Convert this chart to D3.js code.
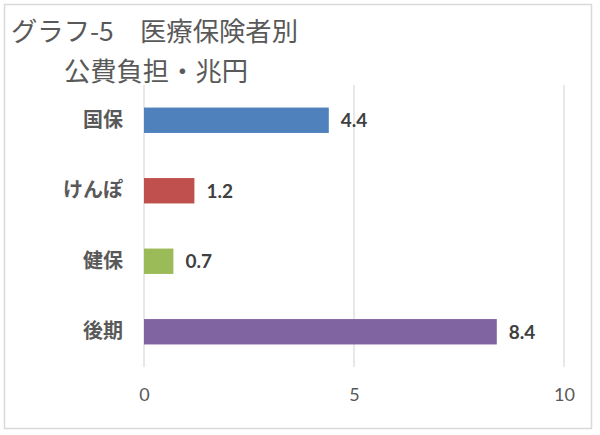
<!DOCTYPE html>
<html>
<head>
<meta charset="utf-8">
<script src="https://cdn.jsdelivr.net/npm/d3@7"></script>
<style>
body { margin: 0; background: #fff; }
svg { display: block; }
</style>
</head>
<body>
<svg id="chart" width="600" height="435"></svg>
<script>
// data
const categories = ["国保", "けんぽ", "健保", "後期"];
const values = [4.4, 1.2, 0.7, 8.4];
const barColors = ["#4F81BD", "#C0504D", "#9BBB59", "#8064A2"];
const xTicks = [0, 5, 10];
const titleLines = ["グラフ-5　医療保険者別", "公費負担・兆円"];

const svg = d3.select("#chart");
const jpFont = "'Noto Sans CJK JP', 'Noto Sans', sans-serif";
const numFont = "Lato, 'Liberation Sans', sans-serif";

// outer frame
svg.append("rect")
    .attr("x", 4.5).attr("y", 4.5)
    .attr("width", 587).attr("height", 424)
    .attr("fill", "#fff")
    .attr("stroke", "#d9d9d9")
    .attr("stroke-width", 1.5);

// title
svg.append("text")
    .attr("x", 11).attr("y", 41)
    .attr("font-family", jpFont)
    .attr("font-size", 26)
    .attr("fill", "#595959")
    .attr("textLength", 287)
    .attr("lengthAdjust", "spacingAndGlyphs")
    .text(titleLines[0]);
svg.append("text")
    .attr("x", 64).attr("y", 81)
    .attr("font-family", jpFont)
    .attr("font-size", 26)
    .attr("fill", "#595959")
    .attr("textLength", 184)
    .attr("lengthAdjust", "spacingAndGlyphs")
    .text(titleLines[1]);

let x = d3.scaleLinear().domain([0, 10]).range([144, 564]);
let y = d3.scaleBand().domain(categories).range([85, 367]).paddingInner(0.64).paddingOuter(0.32);

// gridlines
svg.append("g").selectAll("line")
    .data(xTicks)
    .join("line")
    .attr("x1", d => x(d)).attr("x2", d => x(d))
    .attr("y1", 85).attr("y2", 367)
    .attr("stroke", "#d9d9d9")
    .attr("stroke-width", 1.2);

// x axis labels
let xAxis = svg.append("g")
    .attr("transform", "translate(0,367)")
    .call(d3.axisBottom(x).tickValues(xTicks).tickSize(0).tickPadding(21));
xAxis.select(".domain").remove();
xAxis.selectAll("text")
    .attr("font-family", numFont)
    .attr("font-size", 18)
    .attr("fill", "#595959");

// category labels
let yAxis = svg.append("g")
    .attr("transform", "translate(123,0)")
    .call(d3.axisLeft(y).tickSize(0).tickPadding(0));
yAxis.select(".domain").remove();
yAxis.selectAll("text")
    .attr("font-family", jpFont)
    .attr("font-size", 20)
    .attr("font-weight", "bold")
    .attr("fill", "#595959");

// bars
svg.append("g").selectAll("rect")
    .data(values)
    .join("rect")
    .attr("x", x(0))
    .attr("y", (d, i) => y(categories[i]))
    .attr("width", d => x(d) - x(0))
    .attr("height", y.bandwidth())
    .attr("fill", (d, i) => barColors[i]);

// value labels
svg.append("g").selectAll("text")
    .data(values)
    .join("text")
    .attr("x", d => x(d) + 12)
    .attr("y", (d, i) => y(categories[i]) + y.bandwidth() / 2)
    .attr("dy", "0.36em")
    .attr("font-family", numFont)
    .attr("font-size", 19)
    .attr("font-weight", "bold")
    .attr("fill", "#404040")
    .text(d => d.toFixed(1));
</script>
</body>
</html>
